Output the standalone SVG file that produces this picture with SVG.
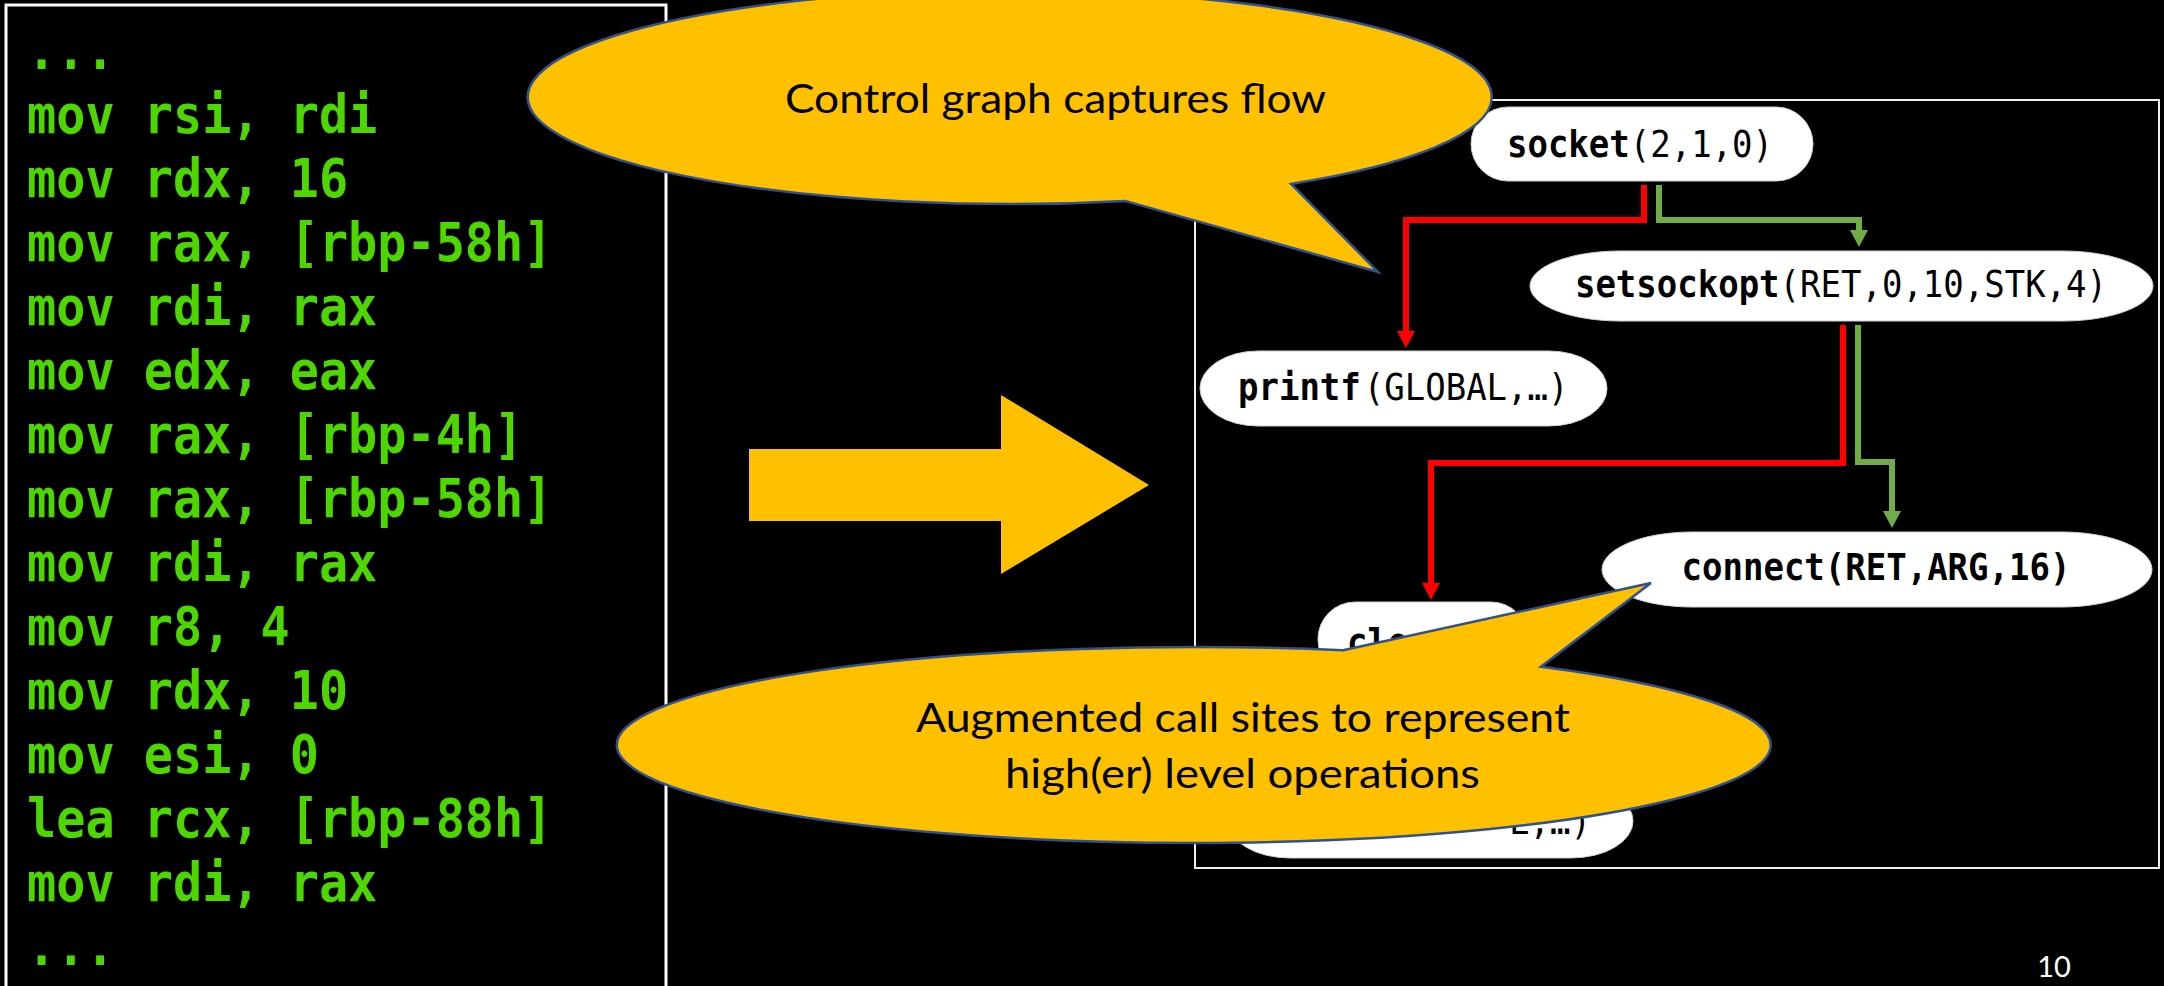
<svg xmlns="http://www.w3.org/2000/svg" width="2164" height="986" viewBox="0 0 2164 986">
  <style>
    .code { font-family: "DejaVu Sans Mono", "Liberation Mono", monospace; font-weight: bold; font-size: 48.5px; fill: #4dd600; }
    .node rect { fill: #ffffff; stroke: #d0d0d0; stroke-width: 1; }
    .lbl { font-family: "DejaVu Sans Mono", "Liberation Mono", monospace; font-size: 34px; fill: #000000; }
    .b { font-weight: bold; }
    .edge { fill: none; stroke-width: 6; stroke-linejoin: miter; stroke-linecap: butt; }
    .red { stroke: #ff0000; }
    .green { stroke: #70ad47; }
    .callout { fill: #ffc000; stroke: #2f528f; stroke-width: 2.5; }
    .ctext { font-family: Lato, "Open Sans", "Liberation Sans", sans-serif; font-size: 41px; fill: #000000; }
  </style>
  <defs>
    <marker id="headRed" markerUnits="userSpaceOnUse" viewBox="0 0 17 18" refX="1" refY="9" markerWidth="17" markerHeight="18" orient="auto">
      <path d="M0,0 L17,9 L0,18 Z" fill="#ff0000"/>
    </marker>
    <marker id="headGreen" markerUnits="userSpaceOnUse" viewBox="0 0 17 18" refX="1" refY="9" markerWidth="17" markerHeight="18" orient="auto">
      <path d="M0,0 L17,9 L0,18 Z" fill="#70ad47"/>
    </marker>
  </defs>

  <rect x="0" y="0" width="2164" height="986" fill="#000000"/>

  <!-- assembly listing (glyphs stretched 10% vertically, baselines every 64px) -->
  <g id="asm">
    <rect x="6" y="5" width="660" height="1000" fill="none" stroke="#ffffff" stroke-width="3"/>
    <text class="code" transform="matrix(1,0,0,1.1,0,-6.9)">
      <tspan x="27" y="69">...</tspan>
      <tspan x="27" y="127.18">mov rsi, rdi</tspan>
      <tspan x="27" y="185.36">mov rdx, 16</tspan>
      <tspan x="27" y="243.55">mov rax, [rbp-58h]</tspan>
      <tspan x="27" y="301.73">mov rdi, rax</tspan>
      <tspan x="27" y="359.91">mov edx, eax</tspan>
      <tspan x="27" y="418.09">mov rax, [rbp-4h]</tspan>
      <tspan x="27" y="476.27">mov rax, [rbp-58h]</tspan>
      <tspan x="27" y="534.45">mov rdi, rax</tspan>
      <tspan x="27" y="592.64">mov r8, 4</tspan>
      <tspan x="27" y="650.82">mov rdx, 10</tspan>
      <tspan x="27" y="709">mov esi, 0</tspan>
      <tspan x="27" y="767.18">lea rcx, [rbp-88h]</tspan>
      <tspan x="27" y="825.36">mov rdi, rax</tspan>
      <tspan x="27" y="883.55">...</tspan>
    </text>
  </g>

  <!-- block arrow -->
  <g id="bigArrow">
    <polygon points="749,449 1001,449 1001,395 1149,485 1001,574 1001,521 749,521" fill="#ffc000"/>
  </g>

  <!-- graph frame -->
  <rect id="graphFrame" x="1195" y="100" width="964" height="768" fill="none" stroke="#f0f0f0" stroke-width="2"/>

  <!-- control flow edges -->
  <g id="connectors">
    <path class="edge red" d="M1644,185 V220 H1406 V332" marker-end="url(#headRed)"/>
    <path class="edge green" d="M1659,185 V220 H1859 V231" marker-end="url(#headGreen)"/>
    <path class="edge red" d="M1843,325 V463 H1431 V584" marker-end="url(#headRed)"/>
    <path class="edge green" d="M1858,325 V462 H1892 V512" marker-end="url(#headGreen)"/>
  </g>

  <!-- call-site nodes (labels stretched 10% vertically about their baseline) -->
  <g id="n-socket" class="node">
    <rect x="1471" y="107" width="342" height="74" rx="37" ry="37"/>
    <text class="lbl" x="1640" y="157" text-anchor="middle" transform="matrix(1,0,0,1.1,0,-15.7)"><tspan class="b">socket</tspan>(2,1,0)</text>
  </g>
  <g id="n-setsockopt" class="node">
    <rect x="1530" y="251" width="623" height="70" rx="90" ry="35"/>
    <text class="lbl" x="1841" y="297" text-anchor="middle" transform="matrix(1,0,0,1.1,0,-29.7)"><tspan class="b">setsockopt</tspan>(RET,0,10,STK,4)</text>
  </g>
  <g id="n-printf" class="node">
    <rect x="1200" y="351" width="407" height="75" rx="58" ry="37.5"/>
    <text class="lbl" x="1238" y="400" transform="matrix(1,0,0,1.1,0,-40)"><tspan class="b">printf</tspan><tspan dx="3">(GLOBAL,…)</tspan></text>
  </g>
  <g id="n-connect" class="node">
    <rect x="1602" y="532" width="550" height="75" rx="90" ry="37.5"/>
    <text class="lbl b" x="1876" y="580" text-anchor="middle" transform="matrix(1,0,0,1.1,0,-58)">connect(RET,ARG,16)</text>
  </g>
  <g id="n-close" class="node">
    <rect x="1318" y="602" width="210" height="75" rx="37" ry="37"/>
    <text class="lbl b" x="1347" y="655" transform="matrix(1,0,0,1.1,0,-65.5)">clo</text>
  </g>
  <g id="n-printf2" class="node">
    <rect x="1228" y="784" width="405" height="74" rx="62" ry="37"/>
    <text class="lbl" x="1509" y="834" transform="matrix(1,0,0,1.1,0,-83.4)">L,…)</text>
  </g>

  <!-- speech callouts -->
  <g id="callout-flow">
    <path class="callout" d="M1125,200.9 L1378,272 L1291,183.9 A482,107 0 1 0 1125,200.9 Z"/>
    <text class="ctext" x="785" y="113" textLength="541" lengthAdjust="spacingAndGlyphs">Control graph captures flow</text>
  </g>
  <g id="callout-augmented">
    <path class="callout" d="M1343,650.3 L1651,583 L1541,666.7 A577,98 0 1 1 1343,650.3 Z"/>
    <text class="ctext" x="916" y="732" textLength="654" lengthAdjust="spacingAndGlyphs">Augmented call sites to represent</text>
    <text class="ctext" x="1005" y="788" textLength="475" lengthAdjust="spacingAndGlyphs">high(er) level operations</text>
  </g>

  <!-- slide number -->
  <text x="2054" y="977" text-anchor="middle" font-family="Lato, 'Open Sans', sans-serif" font-size="29" fill="#ffffff">10</text>
</svg>
